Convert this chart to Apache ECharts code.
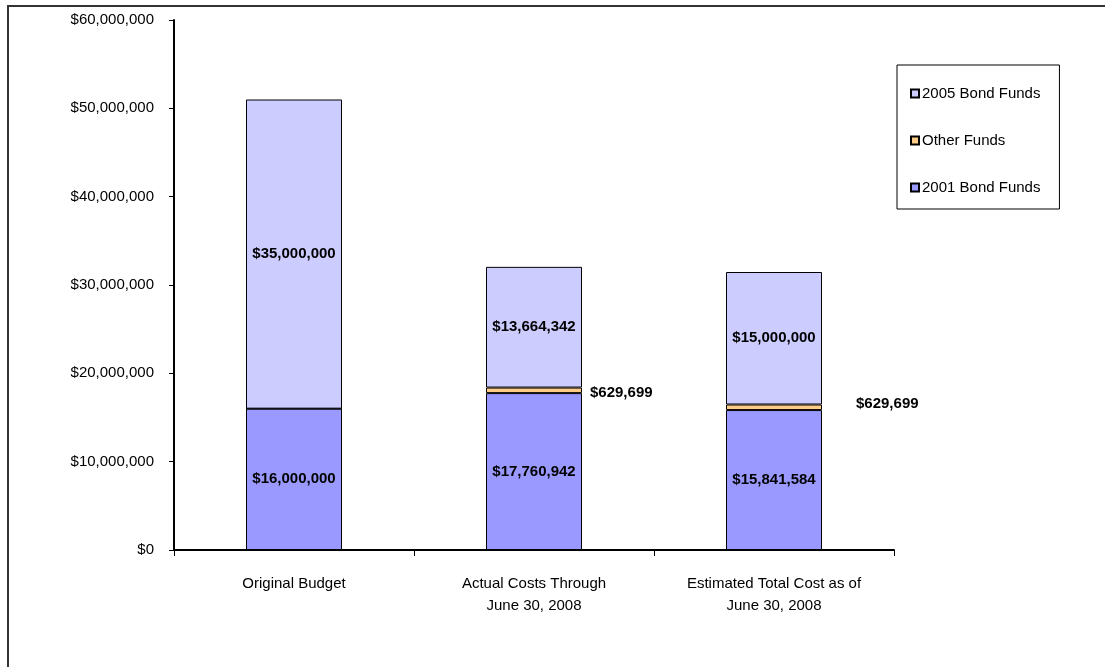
<!DOCTYPE html>
<html>
<head>
<meta charset="utf-8">
<script src="https://cdn.jsdelivr.net/npm/echarts@6/dist/echarts.min.js"></script>
<style>
  html, body { margin: 0; padding: 0; background: #fff; }
  #chart { width: 1105px; height: 667px; }
</style>
</head>
<body>
<div id="chart"></div>
<script>
// Project funding by source
const categories = ['Original Budget', 'Actual Costs Through\nJune 30, 2008', 'Estimated Total Cost as of\nJune 30, 2008'];
const bond2001 = [16000000, 17760942, 15841584];
const otherFunds = [0, 629699, 629699];
const bond2005 = [35000000, 13664342, 15000000];
const yTicks = [0, 10000000, 20000000, 30000000, 40000000, 50000000, 60000000];

const FONT = '"Liberation Sans", Arial, sans-serif';
const FS = 15;

function money(v) {
  return '$' + Math.round(v).toString().replace(/\B(?=(\d{3})+(?!\d))/g, ',');
}

const innerLabel = {
  show: true,
  position: 'inside',
  color: '#000',
  fontFamily: FONT,
  fontWeight: 'bold',
  fontSize: FS,
  formatter: p => money(p.value)
};

const chart = echarts.init(document.getElementById('chart'), null, { renderer: 'canvas' });

chart.setOption({
  animation: false,
  backgroundColor: '#fff',
  textStyle: { fontFamily: FONT },
  graphic: [{
    type: 'polyline',
    shape: { points: [[8, 667], [8, 6], [1105, 6]] },
    style: { stroke: '#333', lineWidth: 2, fill: null }
  }],
  grid: { left: 174, right: 211, top: 20, bottom: 117, containLabel: false },
  legend: {
    orient: 'vertical',
    left: 897,
    top: 65,
    padding: [21, 19, 14, 13],
    itemGap: 32,
    itemWidth: 8,
    itemHeight: 8,
    borderColor: '#000',
    borderWidth: 1,
    icon: 'rect',
    textStyle: { fontFamily: FONT, fontSize: FS, color: '#000', padding: [0, 0, 0, -2] },
    data: ['2005 Bond Funds', 'Other Funds', '2001 Bond Funds']
  },
  xAxis: {
    type: 'category',
    data: categories,
    axisLine: { lineStyle: { color: '#000', width: 2 } },
    axisTick: { show: true, length: 6, lineStyle: { color: '#000', width: 1 } },
    axisLabel: { interval: 0, color: '#000', fontFamily: FONT, fontSize: FS, lineHeight: 22, margin: 23 }
  },
  yAxis: {
    type: 'value',
    min: yTicks[0],
    max: yTicks[yTicks.length - 1],
    interval: 10000000,
    splitLine: { show: false },
    axisLine: { show: true, lineStyle: { color: '#000', width: 2 } },
    axisTick: { show: true, length: 5, lineStyle: { color: '#000', width: 1 } },
    axisLabel: { color: '#000', fontFamily: FONT, fontSize: FS, margin: 20, formatter: v => money(v) }
  },
  series: [
    {
      name: '2001 Bond Funds',
      type: 'bar',
      stack: 'total',
      barWidth: '40%',
      data: bond2001,
      itemStyle: { color: '#9999FF', borderColor: '#000', borderWidth: 1 },
      label: innerLabel
    },
    {
      name: 'Other Funds',
      type: 'bar',
      stack: 'total',
      data: otherFunds.map((v, i) => ({
        value: v,
        label: {
          show: v > 0,
          position: 'right',
          distance: 8,
          offset: i === 2 ? [26, -3] : [0, 3],
          color: '#000',
          fontFamily: FONT,
          fontWeight: 'bold',
          fontSize: FS,
          formatter: p => money(p.value)
        }
      })),
      itemStyle: { color: '#FFCC88', borderColor: '#000', borderWidth: 1 }
    },
    {
      name: '2005 Bond Funds',
      type: 'bar',
      stack: 'total',
      data: bond2005,
      itemStyle: { color: '#CCCCFF', borderColor: '#000', borderWidth: 1 },
      label: innerLabel
    }
  ]
});
</script>
</body>
</html>
